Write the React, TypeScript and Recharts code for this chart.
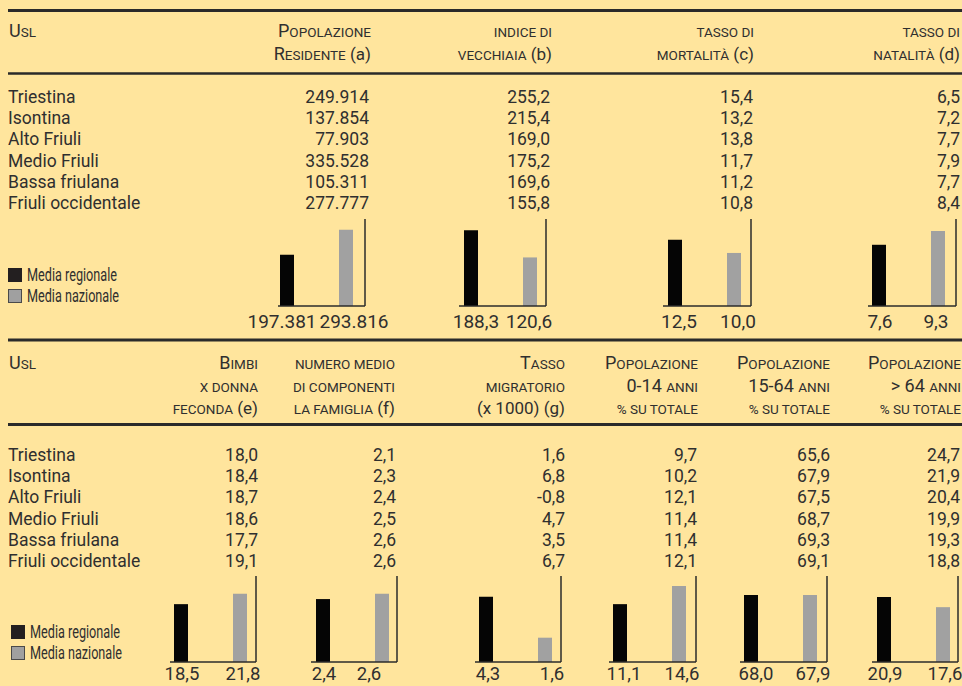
import React from 'react';
import { BarChart, Bar, XAxis, YAxis, LabelList } from 'recharts';

// righe delle tabelle
const usl = ['Triestina', 'Isontina', 'Alto Friuli', 'Medio Friuli', 'Bassa friulana', 'Friuli occidentale'];

// prima tabella
const popolazione = [249914, 137854, 77903, 335528, 105311, 277777];
const vecchiaia = [255.2, 215.4, 169.0, 175.2, 169.6, 155.8];
const mortalita = [15.4, 13.2, 13.8, 11.7, 11.2, 10.8];
const natalita = [6.5, 7.2, 7.7, 7.9, 7.7, 8.4];

// seconda tabella
const bimbi = [18.0, 18.4, 18.7, 18.6, 17.7, 19.1];
const componenti = [2.1, 2.3, 2.4, 2.5, 2.6, 2.6];
const migratorio = [1.6, 6.8, -0.8, 4.7, 3.5, 6.7];
const pop014 = [9.7, 10.2, 12.1, 11.4, 11.4, 12.1];
const pop1564 = [65.6, 67.9, 67.5, 68.7, 69.3, 69.1];
const pop64 = [24.7, 21.9, 20.4, 19.9, 19.3, 18.8];

// medie per i grafici (stesso ordine delle colonne)
const mediaRegionale = [197381, 188.3, 12.5, 7.6, 18.5, 2.4, 4.3, 11.1, 68.0, 20.9];
const mediaNazionale = [293816, 120.6, 10.0, 9.3, 21.8, 2.6, 1.6, 14.6, 67.9, 17.6];

const legendLabels = ['Media regionale', 'Media nazionale'];

type Seg = [string, 'sc' | 'n'];

const topHeaders: { x: number; lines: Seg[][] }[] = [
  { x: 371, lines: [[['Popolazione', 'sc']], [['Residente', 'sc'], [' (a)', 'n']]] },
  { x: 552, lines: [[['indice di', 'sc']], [['vecchiaia', 'sc'], [' (b)', 'n']]] },
  { x: 754, lines: [[['tasso di', 'sc']], [['mortalità', 'sc'], [' (c)', 'n']]] },
  { x: 960, lines: [[['tasso di', 'sc']], [['natalità', 'sc'], [' (d)', 'n']]] },
];

const bottomHeaders: { x: number; lines: Seg[][] }[] = [
  { x: 258, lines: [[['Bimbi', 'sc']], [['x donna', 'sc']], [['feconda', 'sc'], [' (e)', 'n']]] },
  { x: 395, lines: [[['numero medio', 'sc']], [['di componenti', 'sc']], [['la famiglia', 'sc'], [' (f)', 'n']]] },
  { x: 565, lines: [[['Tasso', 'sc']], [['migratorio', 'sc']], [['(x 1000) (g)', 'n']]] },
  { x: 698, lines: [[['Popolazione', 'sc']], [['0-14 anni', 'sc']], [['% su totale', 'sc']]] },
  { x: 830, lines: [[['Popolazione', 'sc']], [['15-64 anni', 'sc']], [['% su totale', 'sc']]] },
  { x: 961, lines: [[['Popolazione', 'sc']], [['> 64 anni', 'sc']], [['% su totale', 'sc']]] },
];

const fmtMigliaia = (n: number) => String(n).replace(/\B(?=(\d{3})+(?!\d))/g, '.');
const fmtDec = (n: number) => n.toFixed(1).replace('.', ',');

const topCols = [
  { x: 369, values: popolazione, fmt: fmtMigliaia },
  { x: 550, values: vecchiaia, fmt: fmtDec },
  { x: 753, values: mortalita, fmt: fmtDec },
  { x: 960, values: natalita, fmt: fmtDec },
];
const bottomCols = [
  { x: 258, values: bimbi, fmt: fmtDec },
  { x: 396, values: componenti, fmt: fmtDec },
  { x: 565, values: migratorio, fmt: fmtDec },
  { x: 697, values: pop014, fmt: fmtDec },
  { x: 830, values: pop1564, fmt: fmtDec },
  { x: 960, values: pop64, fmt: fmtDec },
];

// posizione dei mini grafici (asse sinistro, asse destro, inizio barra nera)
const chartLayout = [
  { S: 278, R: 365, b: 280, top: 219, bottom: 306, max: 335000, dx: [-5, 8], fmt: fmtMigliaia },
  { S: 459, R: 546, b: 464, top: 219, bottom: 306, max: 216, dx: [5, -1], fmt: fmtDec },
  { S: 663, R: 751, b: 668, top: 219, bottom: 306, max: 16.4, dx: [4, 4], fmt: fmtDec },
  { S: 868, R: 956, b: 872, top: 219, bottom: 306, max: 10.8, dx: [1, -2], fmt: fmtDec },
  { S: 170, R: 256, b: 174, top: 576, bottom: 662, max: 27.5, dx: [1, 3], fmt: fmtDec },
  { S: 311, R: 397, b: 316, top: 576, bottom: 662, max: 3.28, dx: [1, -13], fmt: fmtDec },
  { S: 475, R: 561, b: 479, top: 576, bottom: 662, max: 5.66, dx: [2, 7], fmt: fmtDec },
  { S: 609, R: 696, b: 613, top: 576, bottom: 662, max: 16.5, dx: [4, 3], fmt: fmtDec },
  { S: 740, R: 827, b: 744, top: 576, bottom: 662, max: 87.3, dx: [5, 3], fmt: fmtDec },
  { S: 872, R: 958, b: 877, top: 576, bottom: 662, max: 27.6, dx: [1, 2], fmt: fmtDec },
];

const BG = '#FFE59D';
const INK = '#2f2f2f';
const FONT = 'Roboto, "Noto Sans", sans-serif';

function scRuns(text: string, big: number, small: number) {
  const runs: { t: string; s: boolean }[] = [];
  for (const ch of text) {
    const s = /[a-zà-ù%]/.test(ch) || (ch === ' ' && runs.length > 0 && runs[runs.length - 1].s);
    const last = runs[runs.length - 1];
    if (last && last.s === s) last.t += ch;
    else runs.push({ t: ch, s });
  }
  return runs.map((r, i) => (
    <tspan key={i} fontSize={r.s ? small : big}>
      {r.s ? r.t.toUpperCase() : r.t}
    </tspan>
  ));
}

function HeaderLine({ x, y, segs, anchor = 'end' }: { x: number; y: number; segs: Seg[]; anchor?: string }) {
  return (
    <text x={x} y={y} textAnchor={anchor} fill={INK} fontFamily={FONT}>
      {segs.map(([t, k], i) =>
        k === 'n' ? (
          <tspan key={i} fontSize={17}>
            {t}
          </tspan>
        ) : (
          <tspan key={i}>{scRuns(t, 18, 13.5)}</tspan>
        )
      )}
    </text>
  );
}

function Legend({ y }: { y: number }) {
  const x = y > 400 ? 11 : 8;
  return (
    <g>
      <rect x={x} y={y} width={14} height={14} fill="#231f20" />
      <rect x={x + 0.5} y={y + 21.5} width={13} height={13} fill="#a0a0a0" stroke="#4a4a4a" strokeWidth={1} />
      {legendLabels.map((l, i) => (
        <text
          key={l}
          x={x + 19}
          y={y + 13 + i * 21}
          fill={INK}
          fontFamily={FONT}
          fontSize={17.5}
          textLength={i === 0 ? 90 : 92}
          lengthAdjust="spacingAndGlyphs"
        >
          {l}
        </text>
      ))}
    </g>
  );
}

function MiniChart({ idx }: { idx: number }) {
  const c = chartLayout[idx];
  const ml = 40, mr = 39, mt = 4, mb = 39;
  const w = c.R - c.S;
  const h = c.bottom - c.top;
  const band = 73 + 2 * (c.b - c.S);
  const lower = c.top > 400;
  const labelOff = lower ? 18 : 22;
  const data = [{ name: 'media', reg: mediaRegionale[idx], naz: mediaNazionale[idx] }];
  const axis = { stroke: '#2b2b2b', strokeWidth: 1.5 };
  const label = (k: number) => (p: any) => (
    <text
      x={Number(p.x) + Number(p.width) / 2 + c.dx[k]}
      y={h + mt + labelOff}
      textAnchor="middle"
      fill={INK}
      fontFamily={FONT}
      fontSize={lower ? 18.5 : 19}
    >
      {c.fmt(Number(p.value))}
    </text>
  );
  return (
    <div style={{ position: 'absolute', left: c.S - ml, top: c.top - mt }}>
      <BarChart
        width={w + ml + mr + 1}
        height={h + mt + mb + 1}
        data={data}
        margin={{ top: mt, right: mr, bottom: mb, left: ml }}
        barGap={45}
      >
        <XAxis dataKey="name" height={1} tick={false} tickLine={false} axisLine={axis} padding={{ left: 0, right: w - band }} />
        <YAxis orientation="right" width={1} type="number" domain={[0, c.max]} allowDataOverflow tick={false} tickLine={false} axisLine={axis} />
        <Bar dataKey="reg" fill="#050505" barSize={14} isAnimationActive={false}>
          <LabelList dataKey="reg" content={label(0)} />
        </Bar>
        <Bar dataKey="naz" fill="#a1a1a1" barSize={14} isAnimationActive={false}>
          <LabelList dataKey="naz" content={label(1)} />
        </Bar>
      </BarChart>
    </div>
  );
}

export default function App() {
  const rowStep = 21.2;
  return (
    <div style={{ position: 'absolute', left: 0, top: 0, width: 962, height: 686, background: BG, overflow: 'hidden' }}>
      <svg width={962} height={686} style={{ position: 'absolute', left: 0, top: 0 }}>
        {/* filetti */}
        <line x1={8} x2={962} y1={10.5} y2={10.5} stroke="#2a2a2a" strokeWidth={3} />
        <line x1={8} x2={962} y1={73.5} y2={73.5} stroke="#2a2a2a" strokeWidth={2.5} />
        <line x1={8} x2={962} y1={340} y2={340} stroke="#2a2a2a" strokeWidth={3} />
        <line x1={8} x2={962} y1={424.5} y2={424.5} stroke="#2a2a2a" strokeWidth={3} />

        {/* intestazioni */}
        <HeaderLine x={9} y={37} segs={[['Usl', 'sc']]} anchor="start" />
        {topHeaders.map((hd) =>
          hd.lines.map((ln, i) => <HeaderLine key={hd.x + '-' + i} x={hd.x} y={37 + i * 23} segs={ln} />)
        )}
        <HeaderLine x={9} y={369} segs={[['Usl', 'sc']]} anchor="start" />
        {bottomHeaders.map((hd) =>
          hd.lines.map((ln, i) => <HeaderLine key={hd.x + '-' + i} x={hd.x} y={369 + i * 22.5} segs={ln} />)
        )}

        {/* righe */}
        {usl.map((u, r) => (
          <g key={u}>
            <text x={8} y={103 + r * rowStep} fill={INK} fontFamily={FONT} fontSize={17.5}>{u}</text>
            {topCols.map((col) => (
              <text key={col.x} x={col.x} y={103 + r * rowStep} textAnchor="end" fill={INK} fontFamily={FONT} fontSize={17.5}>
                {col.fmt(col.values[r])}
              </text>
            ))}
            <text x={8} y={461 + r * rowStep} fill={INK} fontFamily={FONT} fontSize={17.5}>{u}</text>
            {bottomCols.map((col) => (
              <text key={col.x} x={col.x} y={461 + r * rowStep} textAnchor="end" fill={INK} fontFamily={FONT} fontSize={17.5}>
                {col.fmt(col.values[r])}
              </text>
            ))}
          </g>
        ))}

        <Legend y={268} />
        <Legend y={625} />
      </svg>
      {chartLayout.map((_, i) => (
        <MiniChart key={i} idx={i} />
      ))}
    </div>
  );
}
